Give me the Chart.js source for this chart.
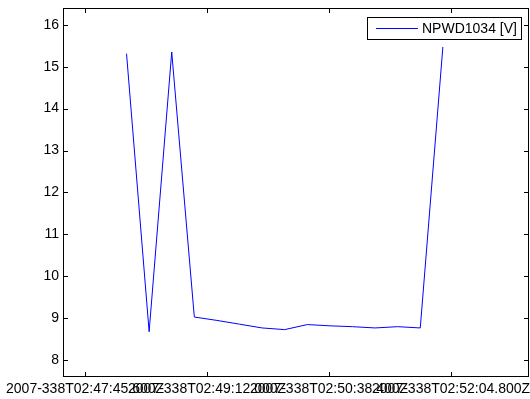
<!DOCTYPE html>
<html>
<head>
<meta charset="utf-8">
<script src="https://cdn.jsdelivr.net/npm/chart.js@4.4.1/dist/chart.umd.min.js"></script>
<style>
  body{margin:0;background:#fff;}
  #wrap{width:530px;height:399px;}
</style>
</head>
<body>
<div id="wrap"><canvas id="chart" width="530" height="399"></canvas></div>
<script>
// seconds after 2007-338T02:47:00Z, one sample every ~16 s
const times = [75, 91, 107, 123, 139, 155, 171, 187, 203, 219, 235, 251, 267, 283, 299];
const volts = [15.31, 8.68, 15.35, 9.03, 8.95, 8.86, 8.77, 8.73, 8.85, 8.82, 8.80, 8.77, 8.80, 8.77, 15.47];
const seriesName = "NPWD1034 [V]";

const xTicks = [45.6, 132.0, 218.4, 304.8];
const yTicks = [8, 9, 10, 11, 12, 13, 14, 15, 16];

function timeLabel(s){
  const m = 47 + Math.floor(s/60);
  const sec = s - Math.floor(s/60)*60;
  const ss = sec.toFixed(3).padStart(6, "0");
  return "2007-338T02:" + String(m).padStart(2,"0") + ":" + ss + "Z";
}

const points = times.map((t,i)=>({x:t, y:volts[i]}));

Chart.defaults.font.family = 'Arial, "Liberation Sans", sans-serif';
Chart.defaults.font.size = 14;
Chart.defaults.color = "#000";

const frame = {
  id: "frame",
  afterDraw(chart){
    const {ctx, chartArea:{left,right,top,bottom}, scales:{x,y}} = chart;
    ctx.save();
    ctx.strokeStyle = "#000";
    ctx.lineWidth = 1;
    ctx.strokeRect(left+0.5, top+0.5, right-left-1, bottom-top-1);
    ctx.beginPath();
    x.ticks.forEach(t=>{
      const px = Math.round(x.getPixelForValue(t.value))+0.5;
      ctx.moveTo(px, bottom); ctx.lineTo(px, bottom-5);
      ctx.moveTo(px, top); ctx.lineTo(px, top+5);
    });
    y.ticks.forEach(t=>{
      const py = Math.round(y.getPixelForValue(t.value))+0.5;
      ctx.moveTo(left, py); ctx.lineTo(left+5, py);
      ctx.moveTo(right, py); ctx.lineTo(right-5, py);
    });
    ctx.stroke();

    // legend box
    const bx = 367, by = 17, bw = 154, bh = 22;
    ctx.fillStyle = "#fff";
    ctx.fillRect(bx, by, bw, bh);
    ctx.strokeRect(bx+0.5, by+0.5, bw, bh);
    const ds = chart.data.datasets[0];
    ctx.strokeStyle = ds.borderColor;
    ctx.beginPath();
    ctx.moveTo(376, by+11.5); ctx.lineTo(418, by+11.5);
    ctx.stroke();
    ctx.fillStyle = "#000";
    ctx.font = '14px Arial, "Liberation Sans", sans-serif';
    ctx.textBaseline = "middle";
    ctx.fillText(ds.label, 422, by+12);
    ctx.restore();
  }
};

new Chart(document.getElementById("chart").getContext("2d"), {
  type: "line",
  data: {
    datasets: [{
      label: seriesName,
      data: points,
      borderColor: "#0000ff",
      borderWidth: 1,
      pointRadius: 0,
      tension: 0,
      fill: false
    }]
  },
  options: {
    responsive: false,
    animation: false,
    layout: {padding: {top: 8, right: 1, left: 0, bottom: 0}},
    plugins: {legend: {display: false}, tooltip: {enabled: false}},
    scales: {
      x: {
        type: "linear",
        min: 30, max: 360,
        afterBuildTicks: s => { s.ticks = xTicks.map(v=>({value:v})); },
        afterFit: s => { s.height = 22; s.paddingLeft = 0; s.paddingRight = 0; },
        grid: {display: false, drawTicks: false},
        border: {display: false},
        ticks: {autoSkip: false, maxRotation: 0, minRotation: 0, padding: 4, callback: v => timeLabel(v)}
      },
      y: {
        min: 7.6, max: 16.4,
        afterBuildTicks: s => { s.ticks = yTicks.map(v=>({value:v})); },
        afterFit: s => { s.width = 63; s.paddingTop = 0; s.paddingBottom = 0; },
        grid: {display: false, drawTicks: false},
        border: {display: false},
        ticks: {padding: 4, callback: v => String(v)}
      }
    }
  },
  plugins: [frame]
});
</script>
</body>
</html>
